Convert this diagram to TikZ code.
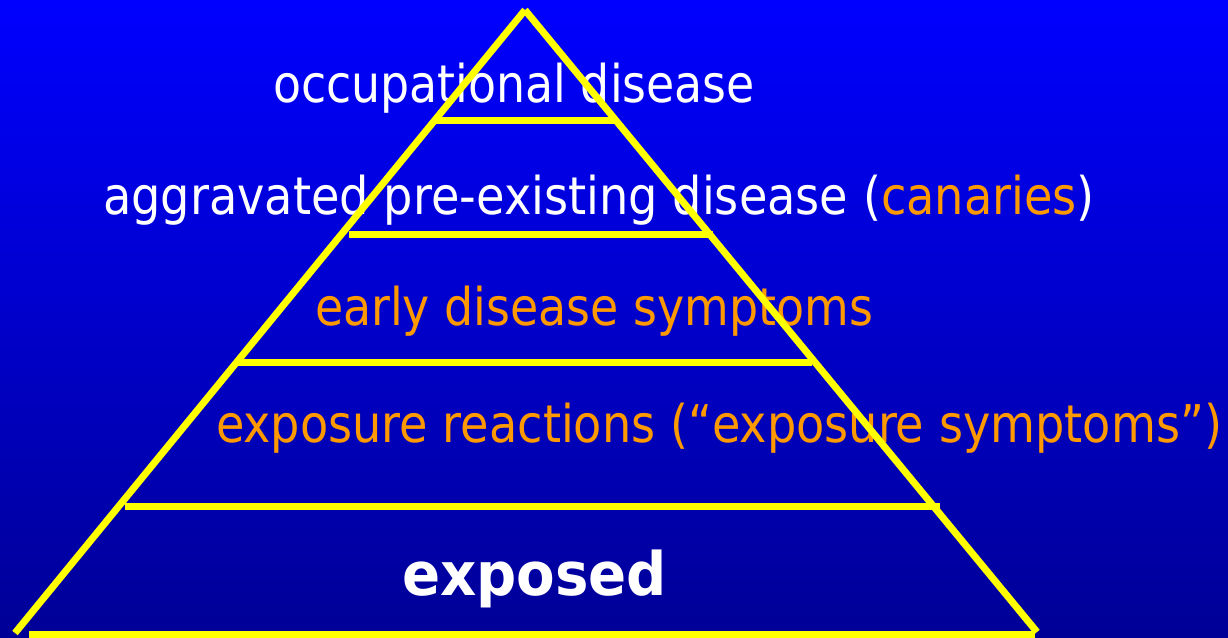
\documentclass[tikz,border=0pt]{standalone}
\usepackage{fontspec}
\setmainfont{DejaVu Sans}
\usepackage{graphicx}
\definecolor{topblue}{RGB}{0,0,255}
\definecolor{botblue}{RGB}{0,0,150}
\definecolor{pyr}{RGB}{255,255,0}
\definecolor{orng}{RGB}{255,153,0}
\newcommand\fitw[2]{\resizebox{#1}{\height}{#2}}
\begin{document}
\begin{tikzpicture}[x=1pt,y=-1pt,
  edge/.style={draw=pyr,line width=7pt,line cap=butt},
  lbl/.style={anchor=base west,inner sep=0pt,outer sep=0pt,font=\fontsize{52}{60}\selectfont},
  big/.style={anchor=base west,inner sep=0pt,outer sep=0pt,font=\fontsize{60}{70}\selectfont\bfseries,text=white}]
\useasboundingbox (0,0) rectangle (1228,637);
\shade[top color=topblue,bottom color=botblue] (0,0) rectangle (1228,637);
% corners of the pyramid
\coordinate (apex) at (525,10);
\coordinate (bl) at (15,633);
\coordinate (br) at (1037,632);
% bars
\coordinate (b1l) at (433,120); \coordinate (b1r) at (617,120);
\coordinate (b2l) at (349,234); \coordinate (b2r) at (713,234);
\coordinate (b3l) at (238,362); \coordinate (b3r) at (812,362);
\coordinate (b4l) at (125,506); \coordinate (b4r) at (940,506);
\coordinate (b5l) at (29,634);  \coordinate (b5r) at (1035,634);
% texts
\node[lbl,text=white] (t1) at (273,102) {\fitw{482pt}{occupational disease}};
\node[lbl,text=white] (t2) at (103,214) {\fitw{992pt}{aggravated pre-existing disease (\textcolor{orng}{canaries})}};
\node[lbl,text=orng] (t3) at (315,325) {\fitw{558pt}{early disease symptoms}};
\node[lbl,text=orng] (t4) at (216,442) {\fitw{1006pt}{exposure reactions (“exposure symptoms”)}};
\node[big] (t5) at (402,595) {\fitw{265pt}{exposed}};
% pyramid lines
\draw[edge] (bl) -- (apex);
\draw[edge] (apex) -- (br);
\draw[edge] (b1l) -- (b1r);
\draw[edge] (b2l) -- (b2r);
\draw[edge] (b3l) -- (b3r);
\draw[edge] (b4l) -- (b4r);
\draw[edge] (b5l) -- (b5r);
\end{tikzpicture}
\end{document}
